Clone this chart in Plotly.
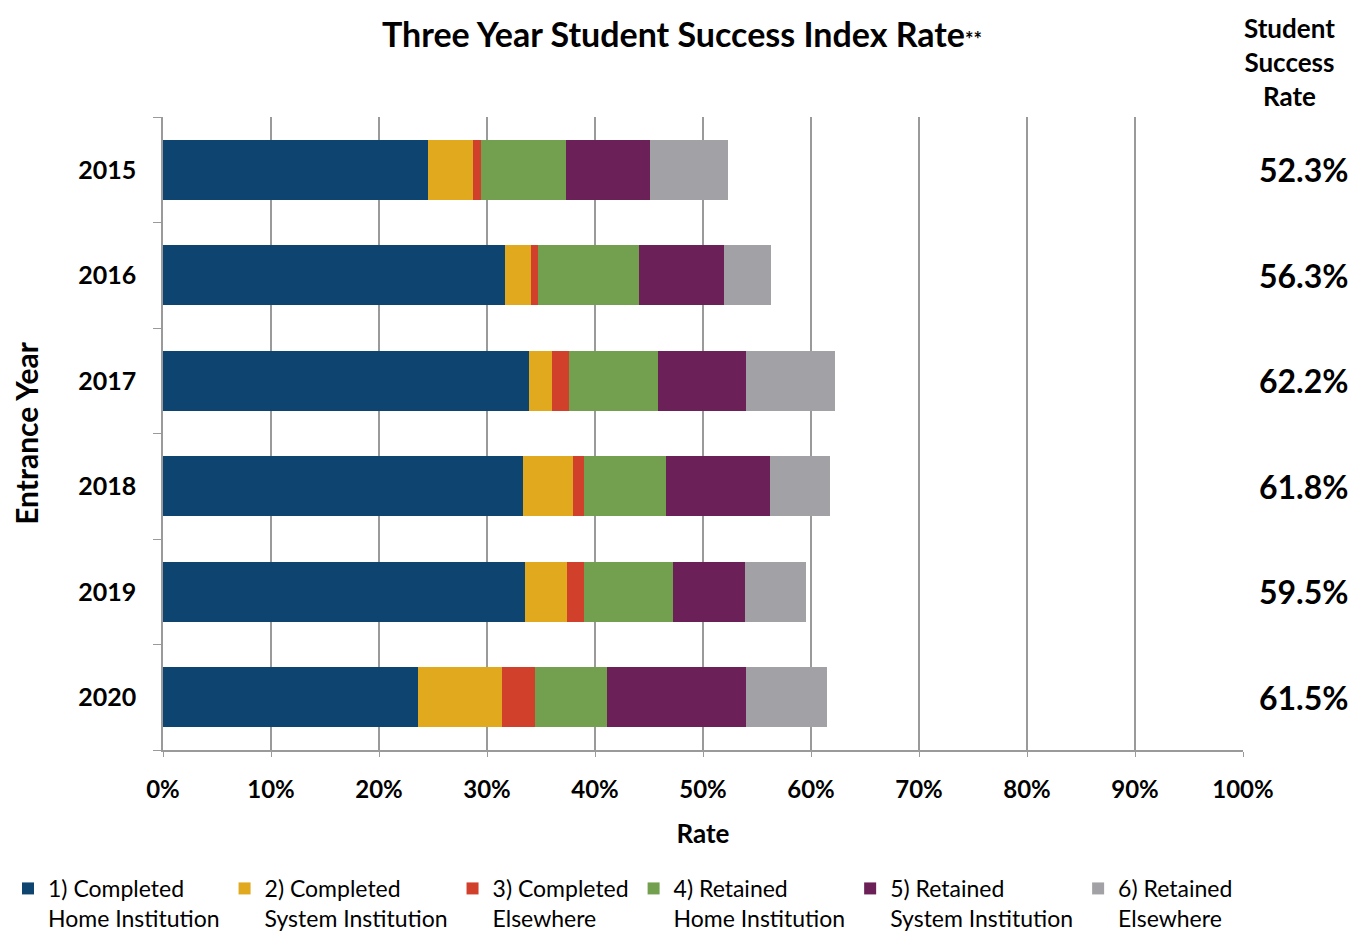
import plotly.graph_objects as go

years = ["2015", "2016", "2017", "2018", "2019", "2020"]

completed_home = [24.5, 31.7, 33.9, 33.3, 33.5, 23.6]
completed_system = [4.2, 2.4, 2.1, 4.7, 3.9, 7.8]
completed_elsewhere = [0.7, 0.6, 1.6, 1.0, 1.6, 3.0]
retained_home = [7.9, 9.4, 8.2, 7.6, 8.2, 6.7]
retained_system = [7.8, 7.8, 8.2, 9.6, 6.7, 12.9]
retained_elsewhere = [7.2, 4.4, 8.2, 5.6, 5.6, 7.5]

success_rate = ["52.3%", "56.3%", "62.2%", "61.8%", "59.5%", "61.5%"]

series_names = [
    "1) Completed<br>Home Institution",
    "2) Completed<br>System Institution",
    "3) Completed<br>Elsewhere",
    "4) Retained<br>Home Institution",
    "5) Retained<br>System Institution",
    "6) Retained<br>Elsewhere",
]
series_values = [
    completed_home,
    completed_system,
    completed_elsewhere,
    retained_home,
    retained_system,
    retained_elsewhere,
]
colors = ["#0E4470", "#E0A91E", "#D0402A", "#72A04F", "#6B2157", "#A2A2A6"]

FONT = "Lato"

fig = go.Figure()

for name, vals, col in zip(series_names, series_values, colors):
    fig.add_trace(
        go.Bar(
            x=vals,
            y=years,
            name=name,
            orientation="h",
            marker=dict(color=col, line=dict(width=0)),
        )
    )

# numeric index on the category axis (a string like "2015" would be read as a number)
for i, rate in enumerate(success_rate):
    fig.add_annotation(
        x=1.0565,
        xref="paper",
        y=i,
        yref="y",
        text="<b>%s</b>" % rate,
        showarrow=False,
        xanchor="center",
        font=dict(size=32, color="black", family=FONT),
    )

fig.add_annotation(
    x=1.0435,
    xref="paper",
    xanchor="center",
    y=1.169,
    yref="paper",
    yanchor="top",
    text="<b>Student<br>Success<br>Rate</b>",
    showarrow=False,
    font=dict(size=26, color="black", family=FONT),
)

# page body adds an 8px offset, so the figure is a bit smaller than the window
fig.update_layout(
    barmode="stack",
    bargap=0.43,
    width=1348,
    height=926,
    paper_bgcolor="white",
    plot_bgcolor="white",
    font=dict(family=FONT, color="black"),
    margin=dict(l=155, r=113, t=109, b=184, autoexpand=False),
    title=dict(
        text="<b>Three Year Student Success Index Rate<span style='font-size:20px'>**</span></b>",
        x=0.5,
        xanchor="center",
        y=0.971,
        yanchor="middle",
        font=dict(size=34, family=FONT, color="black"),
    ),
    legend=dict(
        orientation="h",
        x=-0.1435,
        xanchor="left",
        y=-0.1848,
        yanchor="top",
        valign="top",
        traceorder="normal",
        font=dict(size=23, family=FONT, color="black"),
        itemwidth=30,
        tracegroupgap=0,
    ),
)

fig.update_xaxes(
    range=[0, 100],
    tickvals=[0, 10, 20, 30, 40, 50, 60, 70, 80, 90, 100],
    ticktext=["<b>%d%%</b>" % v for v in range(0, 101, 10)],
    tickfont=dict(size=24, family=FONT, color="black"),
    showgrid=True,
    gridcolor="#9A9A9A",
    gridwidth=1.5,
    showline=True,
    linecolor="#9A9A9A",
    linewidth=1.5,
    ticks="outside",
    ticklen=5,
    tickcolor="#9A9A9A",
    ticklabelstandoff=12,
    zeroline=False,
    automargin=False,
    title=dict(text="<b>Rate</b>", font=dict(size=26, family=FONT, color="black"), standoff=23),
)

fig.update_yaxes(
    type="category",
    categoryorder="array",
    categoryarray=years,
    range=[5.5, -0.5],
    ticktext=["<b>%s</b>" % y for y in years],
    tickvals=years,
    tickfont=dict(size=25, family=FONT, color="black"),
    showline=True,
    linecolor="#9A9A9A",
    linewidth=1.5,
    ticks="outside",
    tickson="boundaries",
    ticklen=8,
    tickcolor="#9A9A9A",
    ticklabelstandoff=20,
    automargin=False,
    title=dict(text="<b>Entrance Year</b>", font=dict(size=30, family=FONT, color="black"), standoff=40),
)

fig.write_html("out.html")
